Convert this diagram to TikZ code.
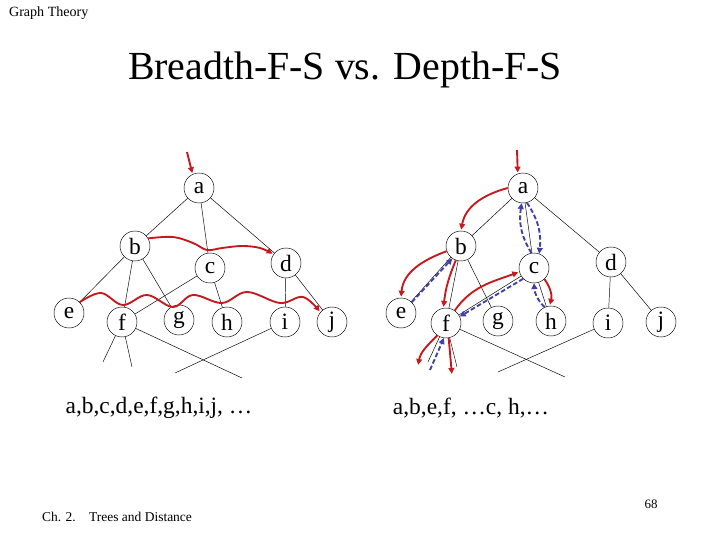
\documentclass[tikz,border=0pt]{standalone}
\usepackage{fontspec}
\setmainfont{Liberation Serif}
\usetikzlibrary{arrows.meta}
\definecolor{rougeparcours}{RGB}{196,26,30}
\definecolor{bleuretour}{RGB}{64,64,168}

\begin{document}
\begin{tikzpicture}[x=0.03cm, y=0.03cm,
    sommet/.style={circle, draw, line width=0.4pt, minimum size=0.9cm, inner sep=0pt,
      font=\fontsize{20}{20}\selectfont},
    aller/.style={draw=rougeparcours, line width=1.6pt, shorten >=1pt,
      -{Triangle[length=5pt, width=5pt]}},
    retour/.style={draw=bleuretour, line width=1.6pt, dash pattern=on 4pt off 2pt,
      -{Triangle[length=5pt, width=5pt]}}]
    \useasboundingbox (0,0) rectangle (720,540);

    % --- Titres ---
    \node[anchor=west, font=\fontsize{12}{12}\selectfont] (entete) at (5,527) {Graph Theory};
    \node[font=\fontsize{34}{34}\selectfont] (titre) at (345,470) {Breadth-F-S vs. Depth-F-S};

    % --- Arbre de gauche : parcours en largeur ---
    \node[sommet] (La) at (199,352) {a};
    \node[sommet] (Lb) at (135,294) {b};
    \node[sommet] (Lc) at (210,272) {c};
    \node[sommet] (Ld) at (286,277) {d};
    \node[sommet] (Le) at (69,227) {e};
    \node[sommet] (Lf) at (122,218) {f};
    \node[sommet] (Lg) at (179,220) {g};
    \node[sommet] (Lh) at (227,218) {h};
    \node[sommet] (Li) at (285,218) {i};
    \node[sommet] (Lj) at (332,218) {j};
    \foreach \u/\v in {a/b, a/c, a/d, b/e, b/f, b/g, c/f, c/h, d/i, d/j}
        \draw (L\u) -- (L\v);

    % On prolonge f et i vers le bas
    \coordinate (Lf1) at (103,178);
    \coordinate (Lf2) at (132,173);
    \coordinate (Lx1) at (242,162);
    \coordinate (Lx2) at (175,167);
    \draw (Lf) -- (Lf1);
    \draw (Lf) -- (Lf2);
    \draw (Lf) -- (Lx1);
    \draw (Li) -- (Lx2);

    % Parcours (rouge)
    \coordinate (Lin) at (187,388);
    \draw[aller] (Lin) -- (La.115);
    \draw[aller] plot[smooth, tension=0.6] coordinates {(Lb.30) (173,303) (193,297)
      (207,290) (222,292) (242,294) (260,292) (Ld.145)};
    \draw[aller] plot[smooth, tension=0.6] coordinates {(Le.45) (101,247) (123,235)
      (147,245) (173,233) (193,245) (222,237) (247,248) (280,237) (303,243) (Lj.140)};

    \node[font=\fontsize{20}{20}\selectfont] (ordreL) at (159,132) {a,b,c,d,e,f,g,h,i,j, …};

    % --- Arbre de droite : parcours en profondeur ---
    \node[sommet] (Ra) at (523,352) {a};
    \node[sommet] (Rb) at (461,294) {b};
    \node[sommet] (Rc) at (534,272) {c};
    \node[sommet] (Rd) at (611,278) {d};
    \node[sommet] (Re) at (401,227) {e};
    \node[sommet] (Rf) at (446,217) {f};
    \node[sommet] (Rg) at (498,219) {g};
    \node[sommet] (Rh) at (551,219) {h};
    \node[sommet] (Ri) at (608,217) {i};
    \node[sommet] (Rj) at (661,218) {j};
    \foreach \u/\v in {a/b, a/c, a/d, b/e, b/f, b/g, c/f, c/h, d/i, d/j}
        \draw (R\u) -- (R\v);

    \coordinate (Rf1) at (428,178);
    \coordinate (Rf2) at (457,173);
    \coordinate (Rx1) at (565,163);
    \coordinate (Rx2) at (498,168);
    \draw (Rf) -- (Rf1);
    \draw (Rf) -- (Rf2);
    \draw (Rf) -- (Rx1);
    \draw (Ri) -- (Rx2);

    % Descentes (rouge) et remontees (bleu)
    \coordinate (Rin) at (517,390);
    \draw[aller] (Rin) -- (Ra.110);
    \draw[aller] (Ra.180) to[out=195, in=80] (Rb.north);
    \draw[aller] (Rb.200) to[out=200, in=85] (Re.north);
    \draw[retour] (Re.45) -- (Rb.235);
    \draw[aller] (Rb.250) to[bend right=8] (Rf.100);
    \draw[aller] (Rf.55) to[out=55, in=200] (Rc.195);
    \draw[retour] (Rc.225) -- (Rf.25);
    \draw[retour] (Ra.285) to[bend left=20] (Rc.70);
    \draw[retour] (Rc.100) to[bend left=20] (Ra.265);
    \draw[aller] (Rc.313) to[bend left=25] (Rh.95);
    \draw[retour] (Rh.115) to[bend left=20] (Rc.270);

    \coordinate (Rfa) at (418,174);
    \coordinate (Rfb) at (430,170);
    \coordinate (Rfc) at (452,165);
    \draw[aller] (Rf.235) to[out=225, in=80] (Rfa);
    \draw[retour] (Rfb) -- (Rf.262);
    \draw[aller] (Rf.280) -- (Rfc);

    \node[font=\fontsize{20}{20}\selectfont] (ordreR) at (471,132) {a,b,e,f, …c, h,…};

    % --- Pied de page ---
    \node[anchor=west, font=\fontsize{11.5}{11.5}\selectfont] (pied) at (38,23)
      {Ch. 2.\hspace{4mm}Trees and Distance};
    \node[font=\fontsize{11}{11}\selectfont] (page) at (651,36) {68};
\end{tikzpicture}
\end{document}
